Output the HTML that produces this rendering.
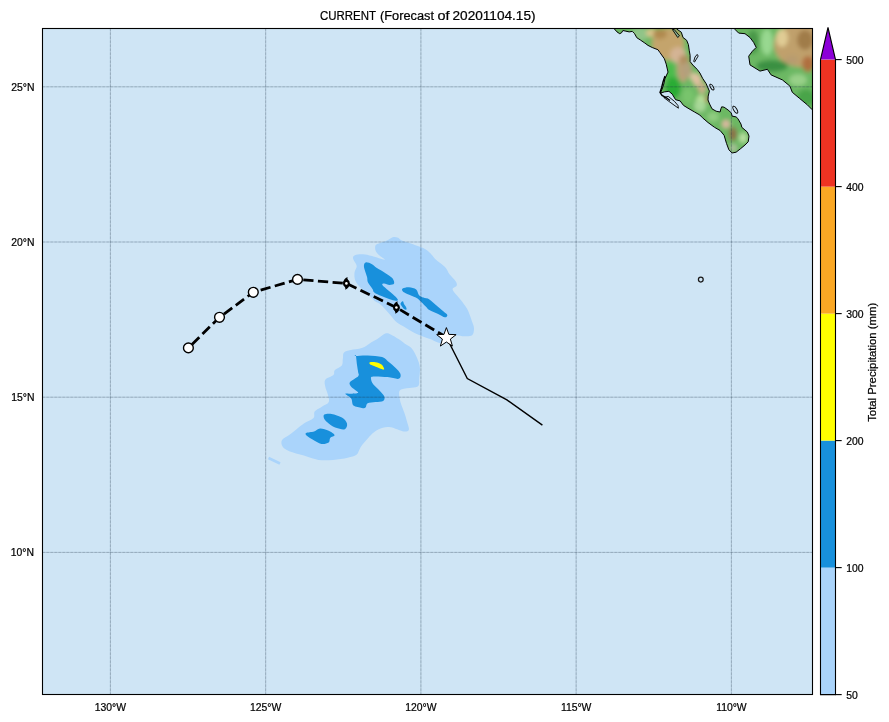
<!DOCTYPE html>
<html><head><meta charset="utf-8">
<style>
html,body{margin:0;padding:0;background:#fff;}
body{width:889px;height:722px;overflow:hidden;position:relative;}
svg{position:absolute;left:0;top:0;will-change:transform;}
text{font-family:"Liberation Sans",sans-serif;fill:#000;stroke:#000;stroke-width:0.22px;}
</style></head>
<body>
<svg width="889" height="722" viewBox="0 0 889 722">
<defs>
  <clipPath id="mapclip"><rect x="42.5" y="28.5" width="770" height="666"/></clipPath>
  <clipPath id="landclip"><polygon points="612.00,20.00 614.30,28.90 617.00,31.90 619.70,33.70 621.50,32.80 622.90,30.50 625.10,31.00 629.20,31.90 632.30,31.40 634.60,33.70 636.80,37.70 640.40,40.00 644.90,43.10 648.00,45.40 652.20,47.50 657.90,49.70 660.00,52.60 664.40,58.80 666.20,64.10 668.00,72.10 666.60,75.00 664.90,78.90 663.80,84.00 662.10,89.10 660.40,93.00 664.40,91.90 668.90,91.30 672.20,94.10 675.60,99.70 680.10,100.90 683.50,105.40 688.00,108.20 694.70,112.10 699.80,115.00 702.40,117.70 708.00,122.50 714.50,127.30 720.10,130.50 724.10,135.30 726.50,143.40 728.90,149.80 732.10,153.00 736.10,152.20 740.20,149.00 745.00,145.00 748.20,141.80 749.00,136.10 747.40,132.10 741.80,127.30 741.00,124.10 737.80,118.50 736.10,116.90 732.10,116.10 731.30,112.90 728.10,110.00 724.10,107.20 721.70,106.80 720.90,108.80 720.10,112.00 716.10,111.20 712.00,108.80 709.60,104.00 708.00,100.00 708.20,96.10 709.40,91.10 706.10,83.60 702.60,78.30 699.90,73.00 697.20,69.40 692.80,65.00 690.10,61.50 690.10,55.30 689.30,50.80 688.40,44.60 686.60,40.20 683.00,37.50 681.30,32.20 676.80,29.10 676.00,20.00"/><polygon points="733.00,20.00 735.00,29.40 738.70,33.10 745.00,33.70 750.00,37.50 753.70,42.50 756.20,47.40 752.40,51.20 748.70,56.20 750.00,64.90 760.00,71.10 767.40,69.30 771.10,74.90 782.40,79.90 789.90,86.10 792.30,92.30 799.80,98.60 807.30,104.80 812.30,109.80 830.00,125.00 830.00,20.00"/></clipPath>
  <filter id="blur" x="-50%" y="-50%" width="200%" height="200%"><feGaussianBlur stdDeviation="2.2"/></filter>
</defs>
<g font-size="12.3">
<text x="320" y="19.6" textLength="56" lengthAdjust="spacingAndGlyphs">CURRENT</text>
<text x="380" y="19.6" textLength="54" lengthAdjust="spacingAndGlyphs">(Forecast</text>
<text x="437.5" y="19.6" textLength="12" lengthAdjust="spacingAndGlyphs">of</text>
<text x="452.5" y="19.6" textLength="83" lengthAdjust="spacingAndGlyphs">20201104.15)</text>
</g>
<rect x="42.5" y="28.5" width="770" height="666" fill="#cfe5f5"/>
<g clip-path="url(#mapclip)">
  <g clip-path="url(#landclip)">
    <g filter="url(#blur)">
      <rect x="600" y="10" width="240" height="160" fill="#6cb864"/>
      <ellipse cx="640" cy="34" rx="9" ry="7" fill="#90c488"/>
      <ellipse cx="668" cy="44" rx="16" ry="16" fill="#c4a46c"/>
      <ellipse cx="683" cy="68" rx="6" ry="14" fill="#bca078"/>
      <ellipse cx="652" cy="33" rx="6" ry="4" fill="#dcc48c"/>
      <ellipse cx="660" cy="34" rx="7" ry="5" fill="#b08a50"/>
      <ellipse cx="678" cy="55" rx="8" ry="8" fill="#d4b494"/>
      <ellipse cx="684" cy="60" rx="5" ry="5" fill="#b09060"/>
      <ellipse cx="670" cy="72" rx="5" ry="10" fill="#4cbc4c"/>
      <ellipse cx="687" cy="70" rx="5" ry="8" fill="#b4a07c"/>
      <ellipse cx="694" cy="77" rx="4" ry="4" fill="#d8c8a0"/>
      <ellipse cx="673" cy="88" rx="8" ry="11" fill="#2aac36"/>
      <ellipse cx="688" cy="96" rx="6" ry="8" fill="#78c46c"/>
      <ellipse cx="697" cy="80" rx="4" ry="6" fill="#e0c0a0"/>
      <ellipse cx="701" cy="101" rx="5" ry="6" fill="#b8e098"/>
      <ellipse cx="707" cy="99" rx="2" ry="4" fill="#a08048"/>
      <ellipse cx="702" cy="88" rx="4" ry="6" fill="#c8b088"/>
      <ellipse cx="700" cy="106" rx="6" ry="6" fill="#a8d898"/>
      <ellipse cx="713" cy="117" rx="6" ry="5" fill="#90cc80"/>
      <ellipse cx="726" cy="124" rx="4" ry="4" fill="#dcb8a0"/>
      <ellipse cx="733" cy="134" rx="4" ry="7" fill="#8c7048"/>
      <ellipse cx="743" cy="138" rx="4" ry="5" fill="#b8e0a0"/>
      <ellipse cx="733" cy="148" rx="4" ry="4" fill="#a8c098"/>
      <ellipse cx="753" cy="42" rx="6" ry="12" fill="#489848"/>
      <ellipse cx="767" cy="42" rx="6" ry="13" fill="#98d890"/>
      <ellipse cx="800" cy="45" rx="26" ry="22" fill="#c0a06c"/>
      <ellipse cx="782" cy="38" rx="6" ry="9" fill="#e0cc94"/>
      <ellipse cx="805" cy="40" rx="8" ry="10" fill="#a07c48"/>
      <ellipse cx="808" cy="64" rx="6" ry="8" fill="#b07040"/>
      <ellipse cx="772" cy="66" rx="16" ry="6" fill="#3a9042"/>
      <ellipse cx="792" cy="60" rx="7" ry="5" fill="#b89c70"/>
      <ellipse cx="798" cy="80" rx="9" ry="6" fill="#98d088"/>
      <ellipse cx="806" cy="98" rx="9" ry="9" fill="#48a448"/>
    </g>
  </g>
  <polygon points="612.00,20.00 614.30,28.90 617.00,31.90 619.70,33.70 621.50,32.80 622.90,30.50 625.10,31.00 629.20,31.90 632.30,31.40 634.60,33.70 636.80,37.70 640.40,40.00 644.90,43.10 648.00,45.40 652.20,47.50 657.90,49.70 660.00,52.60 664.40,58.80 666.20,64.10 668.00,72.10 666.60,75.00 664.90,78.90 663.80,84.00 662.10,89.10 660.40,93.00 664.40,91.90 668.90,91.30 672.20,94.10 675.60,99.70 680.10,100.90 683.50,105.40 688.00,108.20 694.70,112.10 699.80,115.00 702.40,117.70 708.00,122.50 714.50,127.30 720.10,130.50 724.10,135.30 726.50,143.40 728.90,149.80 732.10,153.00 736.10,152.20 740.20,149.00 745.00,145.00 748.20,141.80 749.00,136.10 747.40,132.10 741.80,127.30 741.00,124.10 737.80,118.50 736.10,116.90 732.10,116.10 731.30,112.90 728.10,110.00 724.10,107.20 721.70,106.80 720.90,108.80 720.10,112.00 716.10,111.20 712.00,108.80 709.60,104.00 708.00,100.00 708.20,96.10 709.40,91.10 706.10,83.60 702.60,78.30 699.90,73.00 697.20,69.40 692.80,65.00 690.10,61.50 690.10,55.30 689.30,50.80 688.40,44.60 686.60,40.20 683.00,37.50 681.30,32.20 676.80,29.10 676.00,20.00" fill="none" stroke="#000" stroke-width="1"/>
  <polygon points="733.00,20.00 735.00,29.40 738.70,33.10 745.00,33.70 750.00,37.50 753.70,42.50 756.20,47.40 752.40,51.20 748.70,56.20 750.00,64.90 760.00,71.10 767.40,69.30 771.10,74.90 782.40,79.90 789.90,86.10 792.30,92.30 799.80,98.60 807.30,104.80 812.30,109.80 830.00,125.00 830.00,20.00" fill="none" stroke="#000" stroke-width="1"/>
  <polygon points="672.4,29.5 677.7,37.5 679.5,35.8 674.2,29.5" fill="#88b090" stroke="#000" stroke-width="0.9"/>
  <polygon points="693.7,61.5 695,57 697.2,54.4 698.2,56 694.6,62" fill="none" stroke="#000" stroke-width="0.9"/>
  <ellipse cx="735.3" cy="109.7" rx="1.6" ry="4" transform="rotate(-30 735.3 109.7)" fill="none" stroke="#000" stroke-width="0.9"/>
  <ellipse cx="711.9" cy="87.1" rx="1.4" ry="3.3" transform="rotate(-30 711.9 87.1)" fill="none" stroke="#000" stroke-width="0.9"/>
  <polygon points="663.8,97.5 668.9,101.4 678.4,108.2 677.9,105.4 674.5,101.4 668.3,96.4" fill="none" stroke="#000" stroke-width="0.9"/>
  <polyline points="665,76 663,82 661.5,88 660,92.5 662,95.5 666,97.5 670,100.5" fill="none" stroke="#000" stroke-width="1.4"/>
  <circle cx="700.8" cy="279.6" r="2.4" fill="none" stroke="#1a1a1a" stroke-width="1.25"/>

  <path d="M386.40,240.80 C388.52,239.83 390.75,237.72 392.70,237.20 C394.65,236.68 396.75,237.25 398.10,237.70 C399.45,238.15 399.15,239.08 400.80,239.90 C402.45,240.72 405.30,241.62 408.00,242.60 C410.70,243.58 414.17,244.75 417.00,245.80 C419.83,246.85 422.73,247.62 425.00,248.90 C427.27,250.18 428.77,251.68 430.60,253.50 C432.43,255.32 433.60,257.55 436.00,259.80 C438.40,262.05 442.75,264.60 445.00,267.00 C447.25,269.40 447.70,271.80 449.50,274.20 C451.30,276.60 454.62,279.47 455.80,281.40 C456.98,283.33 457.12,284.42 456.60,285.80 C456.08,287.18 452.07,287.43 452.70,289.70 C453.33,291.97 457.98,296.17 460.40,299.40 C462.82,302.63 465.25,305.38 467.20,309.10 C469.15,312.82 470.97,318.47 472.10,321.70 C473.23,324.93 474.00,326.23 474.00,328.50 C474.00,330.77 473.72,334.00 472.10,335.30 C470.48,336.60 467.05,336.30 464.30,336.30 C461.55,336.30 457.87,334.98 455.60,335.30 C453.33,335.62 452.47,336.78 450.70,338.20 C448.93,339.62 447.25,343.13 445.00,343.80 C442.75,344.47 439.68,342.98 437.20,342.20 C434.72,341.42 432.98,340.27 430.10,339.10 C427.22,337.93 422.78,336.38 419.90,335.20 C417.02,334.02 415.30,333.32 412.80,332.00 C410.30,330.68 407.53,328.87 404.90,327.30 C402.27,325.73 399.37,324.57 397.00,322.60 C394.63,320.63 392.67,317.73 390.70,315.50 C388.73,313.27 387.03,311.17 385.20,309.20 C383.37,307.23 381.40,305.02 379.70,303.70 C378.00,302.38 376.95,302.87 375.00,301.30 C373.05,299.73 370.37,296.52 368.00,294.30 C365.63,292.08 362.90,290.25 360.80,288.00 C358.70,285.75 356.45,283.35 355.40,280.80 C354.35,278.25 354.28,275.17 354.50,272.70 C354.72,270.23 356.93,268.32 356.70,266.00 C356.47,263.68 353.40,260.60 353.10,258.80 C352.80,257.00 353.25,255.95 354.90,255.20 C356.55,254.45 360.15,254.15 363.00,254.30 C365.85,254.45 368.40,255.20 372.00,256.10 C375.60,257.00 383.40,259.85 384.60,259.70 C385.80,259.55 380.70,256.70 379.20,255.20 C377.70,253.70 376.20,252.35 375.60,250.70 C375.00,249.05 374.87,246.58 375.60,245.30 C376.33,244.02 378.20,243.75 380.00,243.00 C381.80,242.25 384.28,241.77 386.40,240.80 Z" fill="#aad4fb"/>
  <path d="M377.40,339.10 C379.93,337.50 382.98,334.38 385.20,333.60 C387.42,332.82 388.47,333.48 390.70,334.40 C392.93,335.32 396.23,337.53 398.60,339.10 C400.97,340.67 402.73,342.27 404.90,343.80 C407.07,345.33 409.57,345.93 411.60,348.30 C413.63,350.67 415.72,354.77 417.10,358.00 C418.48,361.23 419.55,364.23 419.90,367.70 C420.25,371.17 419.43,375.80 419.20,378.80 C418.97,381.80 419.77,384.20 418.50,385.70 C417.23,387.20 414.37,387.22 411.60,387.80 C408.83,388.38 403.98,388.40 401.90,389.20 C399.82,390.00 399.33,390.42 399.10,392.60 C398.87,394.78 399.58,398.83 400.50,402.30 C401.42,405.77 403.45,409.93 404.60,413.40 C405.75,416.87 406.70,420.33 407.40,423.10 C408.10,425.87 409.50,428.62 408.80,430.00 C408.10,431.38 406.20,431.85 403.20,431.40 C400.20,430.95 394.20,427.90 390.80,427.30 C387.40,426.70 385.60,426.98 382.80,427.80 C380.00,428.62 376.43,430.50 374.00,432.20 C371.57,433.90 370.38,435.57 368.20,438.00 C366.02,440.43 362.85,444.00 360.90,446.80 C358.95,449.60 358.70,452.98 356.50,454.80 C354.30,456.62 351.60,456.85 347.70,457.70 C343.80,458.55 337.97,459.53 333.10,459.90 C328.23,460.27 323.37,460.62 318.50,459.90 C313.63,459.18 308.78,457.05 303.90,455.60 C299.02,454.15 292.73,452.67 289.20,451.20 C285.67,449.73 283.92,448.63 282.70,446.80 C281.48,444.97 280.82,442.15 281.90,440.20 C282.98,438.25 286.77,436.93 289.20,435.10 C291.63,433.27 294.05,431.15 296.50,429.20 C298.95,427.25 301.07,425.27 303.90,423.40 C306.73,421.53 311.70,419.98 313.50,418.00 C315.30,416.02 313.32,413.37 314.70,411.50 C316.08,409.63 319.45,408.37 321.80,406.80 C324.15,405.23 327.83,404.27 328.80,402.10 C329.77,399.93 328.18,396.35 327.60,393.80 C327.02,391.25 325.68,389.15 325.30,386.80 C324.92,384.45 323.93,381.67 325.30,379.70 C326.67,377.73 331.93,376.57 333.50,375.00 C335.07,373.43 333.32,371.87 334.70,370.30 C336.08,368.73 340.43,367.57 341.80,365.60 C343.17,363.63 342.32,360.85 342.90,358.50 C343.48,356.15 342.15,353.25 345.30,351.50 C348.45,349.75 357.68,349.38 361.80,348.00 C365.92,346.62 367.40,344.68 370.00,343.20 C372.60,341.72 374.87,340.70 377.40,339.10 Z" fill="#aad4fb"/>
  <line x1="268.5" y1="458" x2="280" y2="463.5" stroke="#aad4fb" stroke-width="2.6"/>
  <path d="M365.70,262.40 C367.05,262.10 370.20,263.30 372.00,264.20 C373.80,265.10 374.25,266.30 376.50,267.80 C378.75,269.30 382.87,271.48 385.50,273.20 C388.13,274.92 390.87,276.38 392.30,278.10 C393.73,279.82 394.55,282.37 394.10,283.50 C393.65,284.63 391.25,284.90 389.60,284.90 C387.95,284.90 385.40,283.50 384.20,283.50 C383.00,283.50 381.65,283.70 382.40,284.90 C383.15,286.10 386.45,288.68 388.70,290.70 C390.95,292.72 394.40,295.35 395.90,297.00 C397.40,298.65 398.45,300.15 397.70,300.60 C396.95,301.05 394.10,300.45 391.40,299.70 C388.70,298.95 384.35,297.30 381.50,296.10 C378.65,294.90 375.80,293.70 374.30,292.50 C372.80,291.30 373.55,290.55 372.50,288.90 C371.45,287.25 368.90,284.55 368.00,282.60 C367.10,280.65 367.55,279.00 367.10,277.20 C366.65,275.40 365.83,273.67 365.30,271.80 C364.77,269.93 363.83,267.57 363.90,266.00 C363.97,264.43 364.35,262.70 365.70,262.40 Z" fill="#1890dc"/>
  <path d="M402.70,288.60 C403.75,287.93 406.75,287.15 409.00,287.30 C411.25,287.45 414.55,288.23 416.20,289.50 C417.85,290.77 417.70,293.55 418.90,294.90 C420.10,296.25 421.65,296.85 423.40,297.60 C425.15,298.35 427.27,298.13 429.40,299.40 C431.53,300.67 433.93,303.27 436.20,305.20 C438.47,307.13 441.15,309.38 443.00,311.00 C444.85,312.62 446.98,313.85 447.30,314.90 C447.62,315.95 446.43,317.47 444.90,317.30 C443.37,317.13 440.68,315.10 438.10,313.90 C435.52,312.70 431.50,311.38 429.40,310.10 C427.30,308.82 427.12,307.82 425.50,306.20 C423.88,304.58 421.32,301.85 419.70,300.40 C418.08,298.95 417.88,298.57 415.80,297.50 C413.72,296.43 409.38,295.03 407.20,294.00 C405.02,292.97 403.45,292.20 402.70,291.30 C401.95,290.40 401.65,289.27 402.70,288.60 Z" fill="#1890dc"/>
  <path d="M355.50,356.00 C357.47,355.98 363.27,355.32 367.70,355.50 C372.13,355.68 378.58,356.00 382.10,357.10 C385.62,358.20 386.58,360.33 388.80,362.10 C391.02,363.87 393.47,365.75 395.40,367.70 C397.33,369.65 399.85,371.95 400.40,373.80 C400.95,375.65 400.83,378.25 398.70,378.80 C396.57,379.35 391.85,377.48 387.60,377.10 C383.35,376.72 375.97,376.22 373.20,376.50 C370.43,376.78 371.00,377.50 371.00,378.80 C371.00,380.10 371.72,382.28 373.20,384.30 C374.68,386.32 378.05,388.87 379.90,390.90 C381.75,392.93 383.75,394.83 384.30,396.50 C384.85,398.17 384.67,399.98 383.20,400.90 C381.73,401.82 378.10,401.62 375.50,402.00 C372.90,402.38 369.27,402.27 367.60,403.20 C365.93,404.13 366.47,406.82 365.50,407.60 C364.53,408.38 363.80,408.23 361.80,407.90 C359.80,407.57 355.27,407.17 353.50,405.60 C351.73,404.03 352.57,400.47 351.20,398.50 C349.83,396.53 345.13,394.60 345.30,393.80 C345.47,393.00 350.05,393.90 352.20,393.70 C354.35,393.50 358.37,393.75 358.20,392.60 C358.03,391.45 352.57,388.55 351.20,386.80 C349.83,385.05 348.83,383.87 350.00,382.10 C351.17,380.33 356.83,377.78 358.20,376.20 C359.57,374.62 358.38,374.37 358.20,372.60 C358.02,370.83 357.48,368.43 357.10,365.60 C356.72,362.77 356.17,357.20 355.90,355.60 C355.63,354.00 353.53,356.02 355.50,356.00 Z" fill="#1890dc"/>
  <path d="M324.30,414.60 C325.52,413.75 328.67,413.42 331.60,413.90 C334.53,414.38 339.33,415.92 341.90,417.50 C344.47,419.08 346.52,421.45 347.00,423.40 C347.48,425.35 346.63,428.47 344.80,429.20 C342.97,429.93 338.68,428.77 336.00,427.80 C333.32,426.83 330.65,424.87 328.70,423.40 C326.75,421.93 325.03,420.47 324.30,419.00 C323.57,417.53 323.08,415.45 324.30,414.60 Z" fill="#1890dc"/>
  <path d="M306.10,432.90 C307.32,432.17 311.78,432.13 314.10,431.40 C316.42,430.67 317.57,428.62 320.00,428.50 C322.43,428.38 326.27,429.60 328.70,430.70 C331.13,431.80 334.35,433.88 334.60,435.10 C334.85,436.32 331.18,436.78 330.20,438.00 C329.22,439.22 330.17,441.42 328.70,442.40 C327.23,443.38 324.08,444.38 321.40,443.90 C318.72,443.42 315.03,440.85 312.60,439.50 C310.17,438.15 307.88,436.90 306.80,435.80 C305.72,434.70 304.88,433.63 306.10,432.90 Z" fill="#1890dc"/>
  <path d="M370.00,362.30 C370.92,361.98 373.58,361.92 375.50,362.30 C377.42,362.68 380.05,363.45 381.50,364.60 C382.95,365.75 384.20,368.47 384.20,369.20 C384.20,369.93 383.20,369.53 381.50,369.00 C379.80,368.47 375.92,366.80 374.00,366.00 C372.08,365.20 370.67,364.82 370.00,364.20 C369.33,363.58 369.08,362.62 370.00,362.30 Z" fill="#ffff00"/>
  <path d="M401.50,302.00 C401.92,301.55 402.58,300.97 403.00,301.30 C403.42,301.63 403.50,303.05 404.00,304.00 C404.50,304.95 405.58,306.08 406.00,307.00 C406.42,307.92 406.83,309.17 406.50,309.50 C406.17,309.83 404.75,309.50 404.00,309.00 C403.25,308.50 402.58,307.33 402.00,306.50 C401.42,305.67 400.58,304.75 400.50,304.00 C400.42,303.25 401.08,302.45 401.50,302.00 Z" fill="#1890dc"/>

  <g stroke="#203448" stroke-width="1" stroke-opacity="0.2" fill="none">
    <line x1="110.4" y1="28.5" x2="110.4" y2="694.5"/>
    <line x1="265.65" y1="28.5" x2="265.65" y2="694.5"/>
    <line x1="420.9" y1="28.5" x2="420.9" y2="694.5"/>
    <line x1="576.15" y1="28.5" x2="576.15" y2="694.5"/>
    <line x1="731.4" y1="28.5" x2="731.4" y2="694.5"/>
    <line x1="42.5" y1="86.8" x2="812.5" y2="86.8"/>
    <line x1="42.5" y1="242.0" x2="812.5" y2="242.0"/>
    <line x1="42.5" y1="397.2" x2="812.5" y2="397.2"/>
    <line x1="42.5" y1="552.4" x2="812.5" y2="552.4"/>
  </g>
  <g stroke="#203448" stroke-width="1" stroke-opacity="0.17" fill="none" stroke-dasharray="2.4 1.6">
    <line x1="110.4" y1="28.5" x2="110.4" y2="694.5"/>
    <line x1="265.65" y1="28.5" x2="265.65" y2="694.5"/>
    <line x1="420.9" y1="28.5" x2="420.9" y2="694.5"/>
    <line x1="576.15" y1="28.5" x2="576.15" y2="694.5"/>
    <line x1="731.4" y1="28.5" x2="731.4" y2="694.5"/>
    <line x1="42.5" y1="86.8" x2="812.5" y2="86.8"/>
    <line x1="42.5" y1="242.0" x2="812.5" y2="242.0"/>
    <line x1="42.5" y1="397.2" x2="812.5" y2="397.2"/>
    <line x1="42.5" y1="552.4" x2="812.5" y2="552.4"/>
  </g>

  <polyline points="446.4,337.3 467.3,378.6 506.9,399.9 542.4,425.1" fill="none" stroke="#000" stroke-width="1.4"/>
  <polyline points="188.4,347.9 219.5,317.3 253.3,292.3 297.5,279.4 346.4,283.4 396.4,307.5 446.4,337.3" fill="none" stroke="#000" stroke-width="2.78" stroke-dasharray="10.28 4.44" stroke-dashoffset="9.72"/>
  <g fill="#fff" stroke="#000" stroke-width="1.39">
    <circle cx="188.4" cy="347.9" r="4.9"/>
    <circle cx="219.5" cy="317.3" r="4.9"/>
    <circle cx="253.3" cy="292.3" r="4.9"/>
    <circle cx="297.5" cy="279.4" r="4.9"/>
  </g>
  <g transform="translate(346.4,283.4)"><path d="M-3.2,0.5 C-3.4,-3 -1.5,-5.2 1.2,-6.3 C0.4,-4.6 1.8,-3.4 3.2,-1.2 Z" fill="#000"/>
    <path d="M3.2,-0.5 C3.4,3 1.5,5.2 -1.2,6.3 C-0.4,4.6 -1.8,3.4 -3.2,1.2 Z" fill="#000"/>
    <circle r="3.3" fill="#000"/>
    <circle r="1.3" fill="#fff"/></g>
  <g transform="translate(396.4,307.5)"><path d="M-3.2,0.5 C-3.4,-3 -1.5,-5.2 1.2,-6.3 C0.4,-4.6 1.8,-3.4 3.2,-1.2 Z" fill="#000"/>
    <path d="M3.2,-0.5 C3.4,3 1.5,5.2 -1.2,6.3 C-0.4,4.6 -1.8,3.4 -3.2,1.2 Z" fill="#000"/>
    <circle r="3.3" fill="#000"/>
    <circle r="1.3" fill="#fff"/></g>
  <path d="M446.40,327.60 L448.87,334.40 L456.10,334.65 L450.39,339.10 L452.40,346.05 L446.40,342.00 L440.40,346.05 L442.41,339.10 L436.70,334.65 L443.93,334.40 Z" fill="#fff" stroke="#000" stroke-width="1"/>
</g>
<rect x="42.5" y="28.5" width="770" height="666" fill="none" stroke="#000" stroke-width="1.1"/>

<g font-size="10.4" text-anchor="middle">
  <text x="110.4" y="710.8">130°W</text>
  <text x="265.65" y="710.8">125°W</text>
  <text x="420.9" y="710.8">120°W</text>
  <text x="576.15" y="710.8">115°W</text>
  <text x="731.4" y="710.8">110°W</text>
</g>
<g font-size="10.4" text-anchor="end">
  <text x="34.5" y="90.7">25°N</text>
  <text x="34.5" y="245.9">20°N</text>
  <text x="34.5" y="401.1">15°N</text>
  <text x="34" y="556.3">10°N</text>
</g>

<g>
  <rect x="820.5" y="567.6" width="15" height="127" fill="#aad4fb"/>
  <rect x="820.5" y="440.6" width="15" height="127" fill="#1890dc"/>
  <rect x="820.5" y="313.6" width="15" height="127" fill="#ffff00"/>
  <rect x="820.5" y="186.6" width="15" height="127" fill="#fba824"/>
  <rect x="820.5" y="59.6" width="15" height="127" fill="#ee3322"/>
  <polygon points="820.5,59.6 828,27.5 835.5,59.6" fill="#8c00d8"/>
  <polygon points="820.5,694.6 820.5,59.6 828,27.5 835.5,59.6 835.5,694.6" fill="none" stroke="#000" stroke-width="1.1"/>
  <g stroke="#000" stroke-width="1.1">
    <line x1="835.5" y1="59.6" x2="841.7" y2="59.6"/>
    <line x1="835.5" y1="186.6" x2="841.7" y2="186.6"/>
    <line x1="835.5" y1="313.6" x2="841.7" y2="313.6"/>
    <line x1="835.5" y1="440.6" x2="841.7" y2="440.6"/>
    <line x1="835.5" y1="567.6" x2="841.7" y2="567.6"/>
    <line x1="835.5" y1="694.6" x2="841.7" y2="694.6"/>
  </g>
  <g font-size="10.4">
    <text x="846.3" y="64.4">500</text>
    <text x="846.3" y="191.4">400</text>
    <text x="846.3" y="318.4">300</text>
    <text x="846.3" y="445.4">200</text>
    <text x="846.3" y="572.4">100</text>
    <text x="846.3" y="699.4">50</text>
  </g>
  <text transform="translate(875.9,362.3) rotate(-90)" font-size="10.4" text-anchor="middle" textLength="119" lengthAdjust="spacingAndGlyphs">Total Precipitation (mm)</text>
</g>
</svg>
</body></html>
